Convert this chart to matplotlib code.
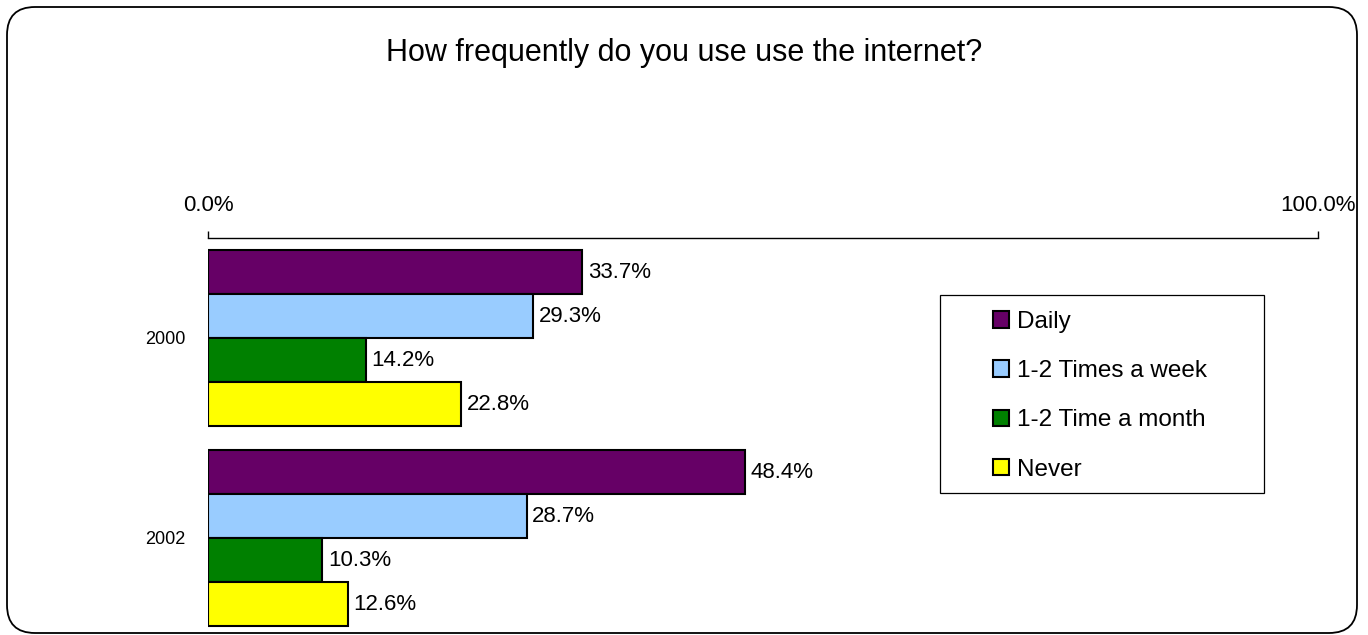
import matplotlib.pyplot as plt
import numpy as np
from matplotlib.patches import FancyBboxPatch, Rectangle

plt.rcParams['font.family'] = ['Liberation Sans', 'DejaVu Sans']

years = ['2000', '2002']
series = ['Daily', '1-2 Times a week', '1-2 Time a month', 'Never']
values = [[33.7, 48.4],   # Daily
          [29.3, 28.7],   # 1-2 Times a week
          [14.2, 10.3],   # 1-2 Time a month
          [22.8, 12.6]]   # Never
colors = ['#660066', '#99CCFF', '#008000', '#FFFF00']

W, H = 1368, 635
fig = plt.figure(figsize=(W / 100, H / 100), dpi=100)

# background axes in pixel units for the rounded frame and legend box
bg = fig.add_axes([0, 0, 1, 1])
bg.set_xlim(0, W)
bg.set_ylim(H, 0)
bg.axis('off')
bg.add_patch(FancyBboxPatch((7, 7), 1350, 626,
                            boxstyle='round,pad=0,rounding_size=28',
                            facecolor='none', edgecolor='black', linewidth=1.3))
bg.add_patch(Rectangle((940, 295), 324, 198, facecolor='none',
                       edgecolor='black', linewidth=0.9))
bg.text(684, 61, 'How frequently do you use use the internet?',
        ha='center', va='baseline', fontsize=22)

ax = fig.add_axes([208 / W, -3 / H, 1110 / W, 400 / H])
ax.patch.set_alpha(0)

h = 0.22
y = np.arange(len(years))
for i, (name, vals) in enumerate(zip(series, values)):
    pos = y - 1.5 * h + i * h
    ax.barh(pos, vals, height=h, color=colors[i], edgecolor='black',
            linewidth=1.5, label=name)
    for p, v in zip(pos, vals):
        ax.text(v + 0.5, p, f'{v:.1f}%', va='center', ha='left', fontsize=16)

ax.set_xlim(0, 100)
ax.set_ylim(1.5, -0.5)
ax.set_xticks([0, 100])
ax.set_xticklabels(['0.0%', '100.0%'], fontsize=16)
ax.xaxis.tick_top()
ax.tick_params(axis='x', direction='out', length=5, width=1, pad=11)
ax.set_yticks(y)
ax.set_yticklabels(years, fontsize=13)
ax.tick_params(axis='y', length=0, pad=16)
for s in ['left', 'right', 'bottom']:
    ax.spines[s].set_visible(False)
ax.spines['top'].set_linewidth(1)

handles, labels = ax.get_legend_handles_labels()
fig.legend(handles, labels, loc='upper left',
           bbox_to_anchor=(993 / W, 1 - 311 / H),
           bbox_transform=fig.transFigure, fontsize=17.5, frameon=False,
           handlelength=0.67, handleheight=0.67, handletextpad=0.33,
           labelspacing=1.12, borderpad=0, borderaxespad=0)

fig.savefig('out.png', dpi=100)
